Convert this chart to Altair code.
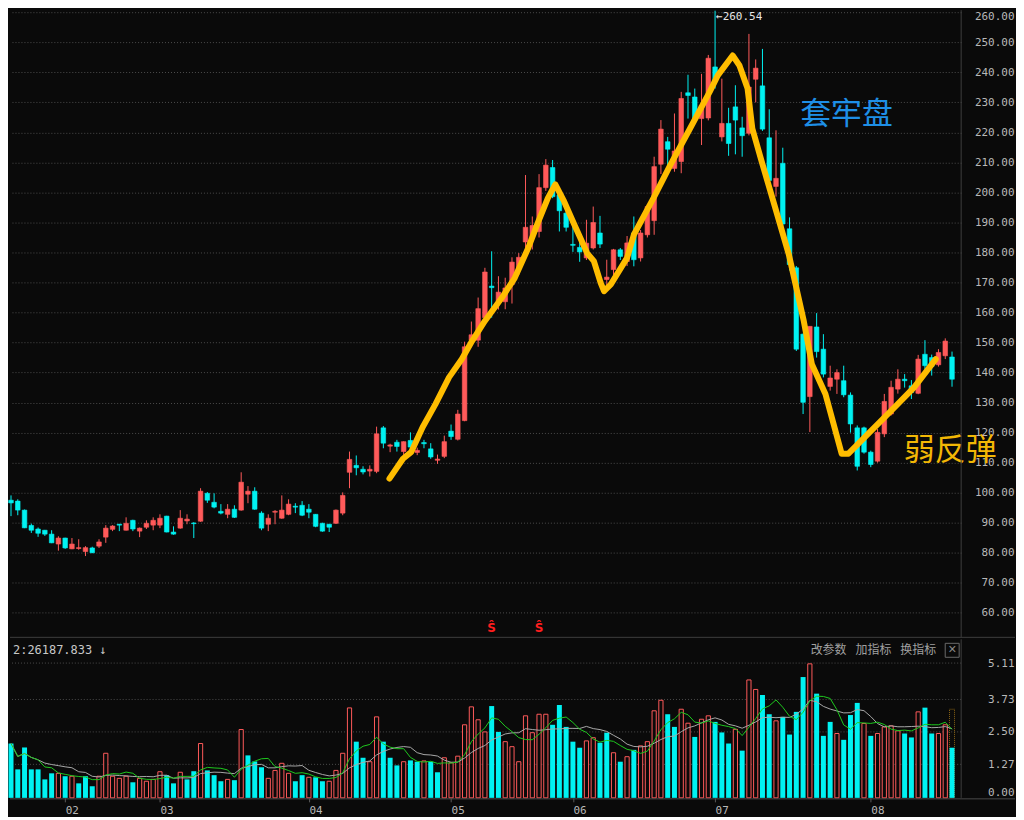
import json
import altair as alt
import pandas as pd

# ---------------- data ----------------
opens = [97.5, 97.2, 94.2, 89.1, 87.9, 87.5, 86.2, 82.9, 84.9, 81.3,
         81.4, 80.4, 81.6, 82.2, 85.2, 87.8, 89.5, 87.5, 90.8, 87.2,
         88.5, 89.2, 89.2, 92.2, 86.9, 88.2, 90.6, 89.9, 90.5, 99.8,
         96.8, 93.8, 92.8, 94.5, 94.2, 99.5, 100.5, 93.2, 89.5, 93.5,
         91.5, 92.8, 95.5, 95.8, 94.5, 92.8, 89.8, 89.5, 89.8, 93.2,
         106.8, 109.1, 107.8, 107.2, 107.1, 121.6, 115.5, 116.8, 113.7, 117.4,
         113.4, 116.7, 114.6, 110.8, 112.1, 120.5, 117.8, 124.0, 150.8, 150.8,
         158.3, 168.8, 163.8, 163.6, 169.3, 174.5, 183.5, 185.0, 187.0, 201.6,
         208.3, 199.2, 193.1, 182.7, 181.7, 178.2, 181.5, 186.5, 171.0, 174.3,
         180.9, 177.0, 186.5, 178.2, 185.9, 190.6, 209.4, 216.9, 208.0, 210.3,
         233.2, 231.8, 224.6, 224.8, 241.8, 218.5, 223.0, 228.5, 221.5, 219.7,
         237.7, 235.5, 218.2, 202.0, 209.7, 187.9, 174.9, 152.8, 132.0, 155.2,
         147.8, 135.4, 137.8, 137.3, 132.5, 121.6, 121.6, 113.5, 110.5, 119.6,
         126.2, 134.5, 137.8, 135.6, 133.1, 146.1, 145.0, 142.6, 145.6, 145.2]
closes = [96.6, 94.2, 88.3, 87.5, 86.5, 86.2, 83.3, 84.9, 81.6, 82.9,
          81.7, 81.7, 80.0, 83.6, 88.2, 88.9, 89.2, 89.8, 87.9, 88.2,
          89.8, 90.8, 91.5, 86.9, 86.2, 91.5, 91.2, 89.7, 100.5, 97.5,
          95.2, 93.2, 94.5, 91.8, 103.5, 100.5, 94.5, 88.2, 91.5, 93.8,
          94.2, 96.2, 95.2, 92.5, 93.5, 88.8, 87.2, 88.5, 94.2, 99.1,
          111.1, 108.3, 106.9, 107.8, 119.6, 116.5, 115.9, 115.4, 117.0, 115.2,
          114.1, 116.3, 111.9, 111.2, 117.0, 118.7, 126.2, 148.6, 152.6, 161.3,
          173.5, 168.3, 166.8, 168.2, 176.8, 178.4, 188.4, 189.0, 201.6, 209.1,
          198.6, 193.9, 188.4, 182.4, 180.2, 183.1, 190.0, 182.8, 171.8, 180.9,
          178.7, 183.2, 177.6, 186.5, 195.3, 208.6, 221.1, 214.4, 213.8, 231.3,
          232.3, 224.4, 229.0, 244.7, 237.3, 223.0, 216.3, 224.1, 218.9, 235.1,
          241.4, 221.1, 204.0, 204.7, 189.5, 176.0, 147.8, 130.1, 155.4, 147.0,
          139.5, 138.2, 140.0, 132.6, 122.9, 108.8, 113.5, 109.4, 120.1, 130.4,
          135.1, 137.8, 137.3, 133.4, 144.5, 142.3, 142.0, 146.7, 150.5, 137.8]
highs = [99.1, 97.8, 94.4, 89.7, 88.4, 87.6, 87.5, 85.5, 85.0, 84.9,
         84.5, 82.2, 82.0, 84.5, 89.2, 89.2, 89.6, 91.8, 91.0, 88.4,
         90.8, 91.8, 92.8, 92.3, 88.8, 94.2, 92.8, 90.2, 101.5, 100.2,
         99.8, 96.2, 96.2, 95.8, 106.8, 102.2, 101.8, 93.8, 92.8, 94.2,
         99.1, 97.8, 96.5, 97.2, 96.2, 92.9, 90.0, 89.6, 94.4, 100.1,
         113.7, 112.4, 108.8, 109.1, 122.0, 122.2, 116.3, 117.6, 117.1, 120.1,
         115.0, 117.6, 116.5, 112.7, 119.0, 122.7, 127.6, 150.3, 157.0, 165.0,
         174.9, 180.4, 172.1, 171.6, 178.4, 179.8, 205.8, 192.0, 206.1, 211.1,
         210.8, 199.5, 193.7, 189.0, 185.0, 190.9, 195.3, 192.2, 177.6, 181.2,
         181.5, 185.5, 192.0, 187.5, 196.0, 211.9, 224.1, 218.5, 226.3, 233.5,
         239.2, 234.6, 239.5, 245.8, 260.54, 237.9, 228.2, 235.7, 225.2, 252.8,
         244.3, 247.8, 227.7, 220.7, 214.9, 191.7, 175.5, 153.0, 155.4, 159.8,
         152.8, 142.3, 141.1, 142.3, 133.4, 122.4, 122.0, 114.0, 121.2, 132.9,
         137.3, 141.1, 139.5, 137.5, 145.9, 150.8, 146.0, 147.8, 151.4, 147.0]
lows = [92.2, 92.5, 88.2, 86.6, 85.3, 85.6, 83.2, 80.7, 81.3, 81.2,
        81.0, 78.9, 79.9, 81.6, 83.3, 87.2, 87.2, 87.4, 87.2, 85.2,
        87.9, 87.5, 88.2, 86.8, 86.0, 88.0, 89.5, 84.9, 90.3, 96.6,
        94.8, 92.8, 91.5, 91.6, 94.0, 96.5, 94.3, 87.5, 87.2, 89.5,
        91.3, 92.5, 93.2, 92.2, 91.5, 88.5, 87.0, 86.9, 89.6, 92.5,
        101.5, 105.8, 106.1, 105.4, 106.5, 114.8, 113.5, 113.7, 112.4, 113.0,
        112.5, 114.8, 111.3, 109.6, 111.5, 117.6, 117.4, 123.8, 148.6, 148.6,
        158.0, 158.3, 161.0, 161.1, 163.0, 172.5, 181.0, 181.0, 185.0, 200.5,
        198.1, 187.0, 187.0, 180.2, 176.9, 177.5, 181.0, 181.5, 168.0, 172.0,
        177.5, 175.5, 175.4, 177.0, 185.0, 185.9, 206.1, 206.9, 206.9, 206.4,
        224.6, 224.0, 215.8, 224.0, 234.6, 217.0, 212.2, 212.7, 211.9, 219.0,
        230.0, 220.5, 203.5, 198.6, 187.0, 174.0, 147.2, 126.2, 120.2, 145.0,
        138.4, 134.0, 132.9, 131.8, 120.0, 107.4, 113.0, 108.5, 110.0, 118.5,
        125.7, 133.0, 135.0, 131.2, 132.8, 141.0, 139.0, 142.0, 144.5, 135.3]
vols = [2.06, 1.08, 1.91, 1.08, 1.08, 0.70, 0.93, 0.93, 0.82, 0.82,
        0.55, 0.82, 0.44, 0.82, 1.69, 0.82, 0.74, 0.82, 0.59, 0.74,
        0.63, 0.70, 0.99, 0.86, 0.55, 0.97, 0.70, 1.01, 2.06, 1.04,
        0.86, 0.63, 0.70, 0.67, 2.59, 1.61, 1.38, 1.16, 0.74, 1.04,
        1.31, 0.93, 0.63, 0.86, 0.78, 0.78, 0.63, 0.63, 1.04, 1.69,
        3.41, 2.13, 1.52, 1.37, 3.07, 2.13, 1.52, 1.23, 1.37, 1.42,
        1.37, 1.40, 1.37, 0.97, 1.52, 1.33, 1.58, 2.77, 3.45, 2.96,
        2.50, 3.48, 2.50, 2.13, 1.94, 1.37, 3.11, 2.47, 3.17, 3.17,
        2.77, 3.52, 2.69, 2.13, 1.90, 2.16, 2.28, 2.09, 2.47, 1.71,
        1.37, 1.56, 1.82, 1.97, 2.13, 3.30, 3.70, 3.17, 2.69, 3.36,
        2.83, 2.31, 2.98, 3.11, 2.88, 2.48, 2.06, 2.60, 1.79, 4.47,
        4.11, 3.90, 3.17, 2.92, 3.07, 2.40, 3.26, 4.58, 5.08, 3.95,
        2.35, 2.88, 2.44, 2.20, 3.14, 3.60, 2.82, 2.35, 2.44, 2.69,
        2.73, 2.54, 2.44, 2.29, 3.26, 3.42, 2.44, 2.44, 2.77, 1.90]
vol_up = [0, 0, 0, 0, 0, 0, 0, 1, 0, 1,
          0, 0, 0, 1, 1, 1, 1, 1, 0, 1,
          1, 1, 1, 0, 0, 1, 0, 0, 1, 0,
          0, 0, 1, 0, 1, 0, 0, 0, 1, 1,
          1, 1, 0, 0, 1, 0, 0, 1, 1, 1,
          1, 0, 0, 1, 1, 0, 0, 0, 1, 0,
          0, 1, 0, 0, 1, 1, 1, 1, 1, 1,
          1, 0, 0, 1, 1, 1, 1, 1, 1, 1,
          0, 0, 0, 0, 0, 1, 1, 0, 0, 1,
          0, 1, 0, 1, 1, 1, 1, 0, 0, 1,
          1, 0, 1, 1, 0, 0, 0, 1, 0, 1,
          1, 0, 0, 1, 0, 0, 0, 0, 1, 0,
          0, 0, 1, 0, 0, 0, 1, 0, 1, 1,
          1, 1, 0, 0, 1, 0, 0, 1, 1, 0]
vol_proj = 3.36  # dotted estimate bar on the last day

# hand-drawn yellow trend line (candle index, price)
trace_i = [55.9, 57.9, 59.1, 60.8, 62.7, 64.7, 66.6, 68.1, 70.0, 72.5,
           74.4, 76.4, 77.8, 79.3, 80.4, 81.7, 83.2, 85.1, 86.1, 87.1,
           87.6, 88.6, 91.0, 92.0, 94.9, 97.4, 100.3, 103.2, 104.4, 106.6,
           107.6, 108.8, 109.5, 110.9, 112.9, 114.9, 117.1, 118.3, 120.3, 122.7,
           123.7, 126.6, 130.5, 133.4, 136.6]
trace_p = [104.7, 111.3, 113.5, 121.8, 129.5, 138.4, 144.5, 150.5, 157.2, 164.9,
           171.5, 181.5, 189.8, 198.1, 202.7, 197.0, 189.3, 179.8, 177.1, 169.9,
           167.1, 169.4, 178.2, 185.9, 198.1, 209.2, 221.3, 233.5, 239.0, 245.6,
           242.3, 234.6, 221.3, 210.2, 194.8, 179.3, 157.2, 142.8, 132.9, 113.0,
           113.0, 119.6, 128.4, 135.1, 144.5]

price_ticks = list(range(60, 261, 10))
vol_ticks = [0.0, 1.27, 2.50, 3.73, 5.11]
month_pos = [8, 22, 44, 65, 83, 104, 127]
month_lbl = ["02", "03", "04", "05", "06", "07", "08"]
sig_pos = [71, 78]

# ---------------- styling ----------------
BG = "#0a0a0a"
RED = "#ff5a5a"
CYAN = "#00f2f2"
GRID = "#4c4c4c"
SEP = "#3e3e3e"
LBL = "#b8b8b8"
MONO = "DejaVu Sans Mono"
CJK = "Noto Sans CJK SC"
W, H1, H2 = 954, 629, 159

df = pd.DataFrame(dict(i=list(range(len(opens))), o=opens, h=highs, l=lows,
                       c=closes, v=vols, vu=vol_up))

xs = alt.Scale(domain=[-0.15, 140.35], nice=False, zero=False, padding=0)
ys = alt.Scale(domain=[51.83, 260.7], nice=False, zero=False, padding=0)
vs = alt.Scale(domain=[0, 6.01], nice=False, zero=True, padding=0)

top_tick = max(price_ticks)
y_axis = alt.Axis(orient="right", values=price_ticks, format=".2f", title=None,
                  grid=True, gridColor=GRID, gridDash=[1, 2], gridWidth=1,
                  domain=False, ticks=False, labelAlign="right",
                  labelBaseline="middle", labelPadding=53, labelColor=LBL,
                  labelOffset={"condition": {"test": "datum.value == %d" % top_tick,
                                             "value": 4},
                               "value": 0},
                  labelFont=MONO, labelFontSize=11)


def X(f):
    return alt.X(f, scale=xs, axis=None)


def Y(f):
    return alt.Y(f, scale=ys, axis=y_axis)


updown = alt.condition("datum.c >= datum.o", alt.value(RED), alt.value(CYAN))
base = alt.Chart(df)

wicks = base.mark_rule(strokeWidth=1).encode(x=X("i:Q"), y=Y("l:Q"), y2="h:Q",
                                             color=updown)
bodies = base.mark_bar(size=4.6, strokeWidth=0.6).encode(
    x=X("i:Q"), y=Y("o:Q"), y2="c:Q", color=updown, stroke=updown)

tr = pd.DataFrame(dict(ti=trace_i, tp=trace_p, k=list(range(len(trace_i)))))
trace = alt.Chart(tr).mark_line(color="#ffbd00", strokeWidth=6, strokeCap="round",
                                strokeJoin="round").encode(
    x=X("ti:Q"), y=Y("tp:Q"), order="k:Q")

imax = highs.index(max(highs))
mx = pd.DataFrame(dict(i=[imax], h=[max(highs)], t=["←%.2f" % max(highs)]))
maxlbl = alt.Chart(mx).mark_text(align="left", baseline="top", dx=1, dy=0,
                                 color="#e6e6e6", font=MONO, fontSize=11).encode(
    x=X("i:Q"), y=Y("h:Q"), text="t:N")

sg = pd.DataFrame(dict(i=sig_pos, t=["Ŝ"] * len(sig_pos)))
sig = alt.Chart(sg).mark_text(color="#ff1e1e", fontSize=12, fontWeight="bold",
                              font="DejaVu Sans", baseline="middle").encode(
    x=X("i:Q"), y=alt.value(620), text="t:N")

note1 = alt.Chart(pd.DataFrame({"t": ["套牢盘"]})).mark_text(
    font=CJK, fontSize=31, color="#1e8fe6", align="center", baseline="middle").encode(
    x=alt.value(839), y=alt.value(105), text="t:N")
note2 = alt.Chart(pd.DataFrame({"t": ["弱反弹"]})).mark_text(
    font=CJK, fontSize=31, color="#f2b705", align="center", baseline="middle").encode(
    x=alt.value(943), y=alt.value(442), text="t:N")

one = pd.DataFrame({"a": [0]})
sep_r = alt.Chart(one).mark_rule(color=SEP).encode(
    x=alt.value(W), y=alt.value(0), y2=alt.value(H1))
sep_b = alt.Chart(one).mark_rule(color=SEP).encode(
    x=alt.value(0), x2=alt.value(W + 54), y=alt.value(H1))

main = alt.layer(wicks, bodies, trace, maxlbl, sig, note1, note2, sep_r, sep_b).properties(
    width=W, height=H1)

# ---------------- volume panel ----------------
v_axis = alt.Axis(orient="right", values=vol_ticks, format=".2f", title=None,
                  grid=False, domain=False, ticks=False, labelAlign="right",
                  labelBaseline={"condition": {"test": "datum.value == 0",
                                               "value": "bottom"},
                                 "value": "middle"},
                  labelPadding=53, labelColor=LBL, labelFont=MONO, labelFontSize=11)
label_expr = "%s[indexof(%s, datum.value)]" % (json.dumps(month_lbl), json.dumps(month_pos))
x_axis = alt.Axis(values=month_pos, labelExpr=label_expr, title=None, grid=False,
                  domain=False, ticks=True, tickColor="#5a5a5a", tickSize=4,
                  labelAlign="left", labelPadding=3, labelColor=LBL, labelFont=MONO,
                  labelFontSize=11, labelFlush=False, labelOverlap=False)


def XV(f):
    return alt.X(f, scale=xs, axis=x_axis)


def YV(f):
    return alt.Y(f, scale=vs, axis=v_axis)


vgrid = alt.Chart(pd.DataFrame({"g": vol_ticks[1:]})).mark_rule(
    color=GRID, strokeDash=[1, 2]).encode(y=YV("g:Q"))

proj = alt.Chart(pd.DataFrame({"i": [len(vols) - 1], "v": [vol_proj]})).mark_bar(
    size=5, fillOpacity=0, stroke="#8c6414", strokeDash=[1, 1], strokeWidth=1).encode(
    x=XV("i:Q"), y=YV("v:Q"))

vdown = base.transform_filter("datum.vu == 0").mark_bar(size=5, color=CYAN).encode(
    x=XV("i:Q"), y=YV("v:Q"))
vup = base.transform_filter("datum.vu == 1").mark_bar(
    size=4.2, fill=BG, stroke=RED, strokeWidth=1).encode(x=XV("i:Q"), y=YV("v:Q"))

ma5 = base.transform_window(ma5="mean(v)", frame=[-4, 0], sort=[{"field": "i"}]).mark_line(
    color="#1ec81e", strokeWidth=1).encode(x=XV("i:Q"), y=YV("ma5:Q"))
ma10 = base.transform_window(ma10="mean(v)", frame=[-9, 0], sort=[{"field": "i"}]).mark_line(
    color="#a8a8a8", strokeWidth=1).encode(x=XV("i:Q"), y=YV("ma10:Q"))

info = alt.Chart(pd.DataFrame({"t": ["2:26187.833 ↓"]})).mark_text(
    font=MONO, fontSize=12, color="#c8c8c8", align="left", baseline="middle").encode(
    x=alt.value(3), y=alt.value(11), text="t:N")
menu = alt.Chart(pd.DataFrame({"t": ["改参数", "加指标", "换指标"],
                               "px": [821, 866, 911]})).mark_text(
    font=CJK, fontSize=12, color="#a0a0a0", align="center", baseline="middle").encode(
    x=alt.X("px:Q", scale=None), y=alt.value(11), text="t:N")
box = alt.Chart(one).mark_rect(fillOpacity=0, stroke="#6a6a6a", strokeWidth=1).encode(
    x=alt.value(938), x2=alt.value(952), y=alt.value(4), y2=alt.value(18))
boxx = alt.Chart(pd.DataFrame({"t": ["×"]})).mark_text(
    fontSize=14, color="#8a8a8a", align="center", baseline="middle").encode(
    x=alt.value(945), y=alt.value(11), text="t:N")

vsep_r = alt.Chart(one).mark_rule(color=SEP).encode(
    x=alt.value(W), y=alt.value(0), y2=alt.value(H2))
vsep_b = alt.Chart(one).mark_rule(color="#4a4a4a").encode(
    x=alt.value(0), x2=alt.value(W + 54), y=alt.value(H2 + 1))

vol = alt.layer(vgrid, proj, vdown, vup, ma10, ma5, info, menu, box, boxx,
                vsep_r, vsep_b).properties(width=W, height=H2)

chart = alt.vconcat(main, vol, spacing=0).properties(
    background=BG, padding={"left": 0, "top": 0, "right": 0, "bottom": 0}
).configure_view(stroke=None)

chart.save("out.html", embed_options={"renderer": "svg", "actions": False})
